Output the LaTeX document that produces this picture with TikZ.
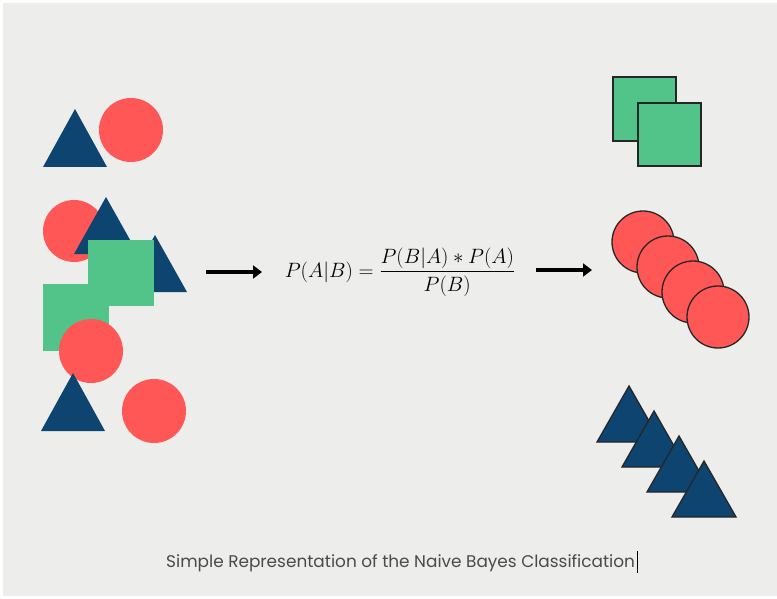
\documentclass[tikz,border=0pt]{standalone}
\usepackage{fontspec}
\usepackage{amsmath}
\newfontfamily\capfont{Poppins}
\usetikzlibrary{arrows.meta}
\definecolor{bgc}{HTML}{EDEEEC}
\definecolor{navy}{HTML}{0E4470}
\definecolor{redc}{HTML}{FF5656}
\definecolor{greenc}{HTML}{52C48A}
\definecolor{capc}{HTML}{4A4A4A}
\tikzset{
  tri/.style={fill=navy},
  dot/.style={fill=redc},
  sq/.style={fill=greenc},
  outl/.style={draw=black!85, line width=1.3pt},
  flow/.style={line width=3.2pt, -{Triangle[length=9pt,width=13pt]}},
}
\begin{document}
\begin{tikzpicture}[x=1pt,y=-1pt]
\useasboundingbox (0,0) rectangle (777,599);
\fill[white] (0,0) rectangle (777,599);
\fill[bgc] (3,3) rectangle (777,596);

% mixed collection on the left
\fill[tri] (75,109) -- ++(32,58) -- ++(-64,0) -- cycle;
\fill[dot] (131,130) circle (32);
\fill[dot] (74,231) circle (31);
\fill[tri] (106,197) -- ++(32,57) -- ++(-64,0) -- cycle;
\fill[tri] (155,235) -- ++(32,57) -- ++(-64,0) -- cycle;
\fill[sq] (43,284) rectangle (109,351);
\fill[sq] (88,240) rectangle (154,306);
\fill[dot] (91,351) circle (32);
\fill[tri] (73,373) -- ++(32,58) -- ++(-64,0) -- cycle;
\fill[dot] (154,411) circle (32);

% formula between the two arrows
\node (eq) at (400,272) {\fontsize{22.6}{27}\selectfont $P(A|B)=\dfrac{P(B|A)*P(A)}{P(B)}$};
\coordinate (a1) at (206,272);
\coordinate (b1) at (262,272);
\coordinate (a2) at (536,270);
\coordinate (b2) at (592,270);
\draw[flow] (a1) -- (b1);
\draw[flow] (a2) -- (b2);

% sorted groups on the right
\filldraw[sq, outl] (613,77) rectangle (676,141);
\filldraw[sq, outl] (638,103) rectangle (701,166);
\foreach \i in {0,1,2,3}
  \filldraw[dot, outl] (643+25*\i,242+25*\i) circle (31);
\foreach \i in {0,1,2,3}
  \filldraw[tri, outl, line join=miter] (629+25*\i,386+25*\i) -- ++(32,56) -- ++(-64,0) -- cycle;

% caption with text cursor
\node[anchor=base west, inner sep=0pt, text=capc] (cap) at (166,567)
  {\capfont\fontsize{16.9}{20}\selectfont Simple Representation of the Naive Bayes Classification};
\coordinate (cu1) at ([xshift=2pt,yshift=16pt]cap.base east);
\coordinate (cu2) at ([xshift=2pt,yshift=-6pt]cap.base east);
\draw[black, line width=1pt] (cu1) -- (cu2);
\end{tikzpicture}
\end{document}
